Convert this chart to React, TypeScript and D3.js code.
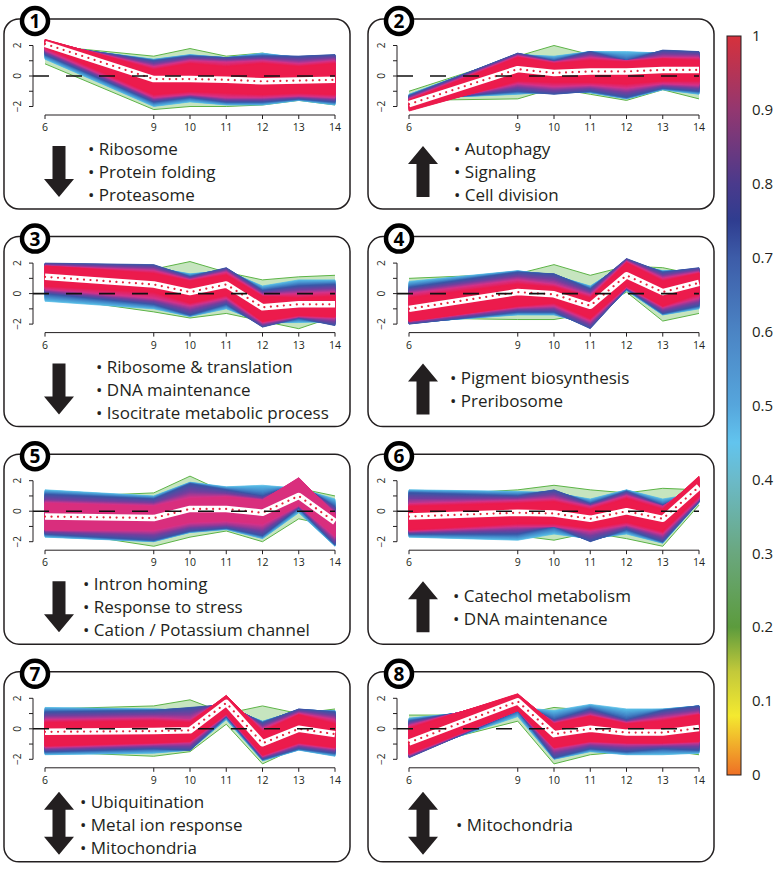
import React from "react";
import * as d3 from "d3";

const TIMES = [6, 9, 10, 11, 12, 13, 14];
const Y_TICKS = [-2, -1, 0, 1, 2];
const Y_LABELS = [-2, 0, 2];
const CB_TICKS = [0, 0.1, 0.2, 0.3, 0.4, 0.5, 0.6, 0.7, 0.8, 0.9, 1];

// membership band layers: [membership, upper[], lower[]]
const CENTROID_1 = [2.1, -0.2, -0.2, -0.25, -0.35, -0.3, -0.25];
const BANDS_1: [number, number[], number[]][] = [
  [0.25, [2.0, 1.3, 1.8, 1.3, 1.5, 1.0, 1.3], [0.8, -2.2, -2.0, -2.0, -1.9, -1.6, -1.9]],
  [0.42, [2.0, 1.1, 1.4, 1.2, 1.5, 1.2, 1.3], [1.1, -2.0, -1.7, -1.9, -1.9, -1.6, -1.9]],
  [0.72, [2.1, 1.0, 1.3, 1.2, 1.3, 1.3, 1.4], [1.4, -1.7, -1.4, -1.7, -1.7, -1.5, -1.7]],
  [0.88, [2.3, 0.6, 1.0, 0.9, 1.0, 0.8, 1.0], [1.7, -1.4, -1.2, -1.4, -1.4, -1.3, -1.4]],
  [0.97, [2.4, 0.4, 0.8, 0.6, 0.8, 0.6, 0.8], [1.9, -1.2, -1.0, -1.1, -1.2, -1.1, -1.2]],
];
const CENTROID_2 = [-1.85, 0.45, 0.2, 0.3, 0.3, 0.4, 0.4];
const BANDS_2: [number, number[], number[]][] = [
  [0.25, [-1.0, 1.3, 2.0, 1.4, 1.5, 1.3, 1.4], [-1.6, -1.5, -0.8, -1.2, -1.6, -0.9, -1.5]],
  [0.42, [-1.2, 1.4, 1.3, 1.6, 1.6, 1.5, 1.5], [-1.5, -1.2, -1.0, -1.1, -1.5, -0.9, -1.2]],
  [0.72, [-1.3, 1.5, 1.0, 1.6, 1.0, 1.7, 1.6], [-1.6, -1.0, -1.2, -1.0, -1.4, -0.8, -1.0]],
  [0.88, [-1.5, 1.3, 0.9, 1.2, 1.0, 1.2, 1.2], [-2.0, -0.5, -0.7, -0.6, -0.8, -0.5, -0.6]],
  [0.97, [-1.6, 1.2, 0.8, 1.0, 0.9, 1.1, 1.0], [-2.3, -0.3, -0.4, -0.4, -0.5, -0.3, -0.3]],
];
const CENTROID_3 = [1.1, 0.6, 0.1, 0.6, -0.9, -0.7, -0.7];
const BANDS_3: [number, number[], number[]][] = [
  [0.25, [1.6, 1.6, 2.1, 1.4, 0.9, 1.1, 1.2], [-0.2, -1.2, -1.6, -1.3, -1.8, -2.3, -1.5]],
  [0.42, [1.8, 1.7, 1.3, 1.5, 0.5, 0.9, 0.9], [-0.5, -1.0, -1.5, -1.0, -1.9, -1.9, -1.8]],
  [0.72, [2.0, 1.9, 1.1, 1.7, 0.2, 0.5, 0.6], [0.0, -0.7, -1.4, -0.7, -2.2, -1.6, -2.1]],
  [0.88, [1.8, 1.5, 0.9, 1.4, -0.1, 0.0, 0.1], [0.3, -0.3, -0.8, -0.3, -1.9, -1.5, -1.6]],
  [0.97, [1.8, 1.3, 0.8, 1.2, -0.2, -0.3, -0.2], [0.5, 0.1, -0.6, -0.1, -1.8, -1.4, -1.5]],
];
const CENTROID_4 = [-1.0, 0.1, -0.05, -0.8, 1.2, 0.1, 0.7];
const BANDS_4: [number, number[], number[]][] = [
  [0.25, [1.0, 1.3, 1.9, 1.2, 1.8, 1.7, 1.2], [-1.6, -1.7, -1.7, -1.3, 0.1, -1.8, -1.3]],
  [0.42, [0.8, 1.5, 1.2, 0.5, 2.0, 1.5, 1.5], [-1.9, -1.4, -1.4, -2.0, 0.2, -1.4, -1.0]],
  [0.72, [0.4, 1.4, 1.3, 0.3, 2.3, 1.4, 1.7], [-2.0, -1.2, -1.2, -2.3, 0.3, -1.3, -0.8]],
  [0.88, [0.0, 0.9, 0.6, -0.1, 2.1, 1.0, 1.4], [-1.8, -0.9, -0.8, -1.8, 0.4, -0.9, -0.3]],
  [0.97, [-0.3, 0.6, 0.4, -0.3, 2.0, 0.8, 1.3], [-1.8, -0.8, -0.6, -1.6, 0.5, -0.8, 0.0]],
];
const CENTROID_5 = [-0.35, -0.45, 0.15, 0.15, -0.1, 1.0, -0.7];
const BANDS_5: [number, number[], number[]][] = [
  [0.25, [0.9, 1.2, 2.3, 1.2, 1.2, 1.5, 1.0], [-1.2, -2.3, -1.7, -1.3, -2.0, -0.5, -1.0]],
  [0.42, [1.4, 1.0, 1.9, 1.6, 1.7, 1.5, 0.8], [-1.7, -2.0, -1.4, -1.2, -1.8, -0.1, -2.3]],
  [0.72, [1.1, 0.8, 1.8, 1.4, 1.0, 1.8, 0.3], [-1.5, -1.9, -1.3, -1.1, -1.6, 0.2, -2.2]],
  [0.82, [0.7, 0.5, 1.2, 1.1, 0.8, 2.0, 0.0], [-1.3, -1.5, -1.0, -0.9, -1.2, 0.3, -1.9]],
  [0.9, [0.5, 0.3, 0.8, 0.9, 0.7, 2.2, -0.2], [-1.2, -1.2, -0.7, -0.6, -0.8, 0.4, -1.6]],
];
const CENTROID_6 = [-0.35, -0.1, -0.15, -0.5, 0.0, -0.5, 1.6];
const BANDS_6: [number, number[], number[]][] = [
  [0.25, [1.0, 1.4, 1.7, 1.4, 1.2, 1.5, 1.4], [-1.3, -1.6, -1.9, -1.4, -1.8, -2.3, 0.4]],
  [0.42, [1.4, 1.3, 1.2, 0.8, 1.4, 0.8, 1.2], [-1.7, -1.9, -1.5, -1.8, -1.5, -2.1, 0.6]],
  [0.72, [1.2, 1.0, 1.4, 0.5, 1.3, 0.4, 1.3], [-1.5, -1.5, -1.0, -2.0, -1.2, -2.0, 0.6]],
  [0.88, [0.5, 0.7, 0.8, 0.3, 1.0, 0.3, 2.0], [-1.3, -1.0, -1.0, -1.3, -0.9, -1.5, 0.8]],
  [0.97, [0.3, 0.5, 0.6, 0.1, 0.8, 0.1, 2.3], [-1.2, -0.8, -0.8, -1.1, -0.7, -1.3, 1.0]],
];
const CENTROID_7 = [-0.2, -0.15, -0.1, 1.7, -0.95, 0.0, -0.35];
const BANDS_7: [number, number[], number[]][] = [
  [0.25, [1.3, 1.5, 1.9, 1.0, 1.5, 1.0, 1.3], [-1.5, -1.8, -1.5, 0.3, -2.3, -1.2, -1.5]],
  [0.42, [1.4, 1.3, 1.2, 1.4, 0.5, 1.2, 1.2], [-1.7, -1.6, -1.4, 0.6, -2.1, -1.4, -1.8]],
  [0.72, [1.1, 1.2, 1.4, 1.6, 0.4, 1.3, 1.1], [-1.5, -1.3, -1.4, 0.8, -2.0, -1.3, -1.6]],
  [0.88, [0.6, 0.7, 0.6, 2.0, 0.0, 1.0, 0.6], [-1.2, -1.0, -0.9, 0.9, -1.8, -1.0, -1.3]],
  [0.97, [0.4, 0.5, 0.4, 2.2, -0.2, 0.9, 0.3], [-1.1, -0.9, -0.8, 1.0, -1.7, -0.9, -1.2]],
];
const CENTROID_8 = [-0.9, 1.8, -0.35, 0.0, -0.25, -0.25, 0.05];
const BANDS_8: [number, number[], number[]][] = [
  [0.25, [0.9, 0.9, 1.4, 1.2, 1.2, 1.2, 1.2], [-1.3, 0.5, -2.3, -1.7, -1.5, -1.4, -1.7]],
  [0.42, [0.7, 1.4, 1.2, 1.6, 1.3, 1.3, 1.5], [-1.6, 0.8, -2.0, -1.5, -1.7, -1.7, -1.6]],
  [0.72, [0.5, 1.7, 0.6, 1.3, 0.6, 1.2, 1.5], [-1.9, 1.2, -1.9, -1.3, -1.5, -1.3, -1.4]],
  [0.88, [0.2, 2.1, 0.4, 0.9, 0.4, 0.7, 1.0], [-1.7, 1.2, -1.3, -0.9, -1.0, -1.0, -0.9]],
  [0.97, [0.0, 2.3, 0.3, 0.8, 0.3, 0.5, 0.9], [-1.6, 1.2, -1.2, -0.8, -0.9, -0.9, -0.8]],
];

const TERMS_1 = ["Ribosome", "Protein folding", "Proteasome"];
const TERMS_2 = ["Autophagy", "Signaling", "Cell division"];
const TERMS_3 = ["Ribosome & translation", "DNA maintenance", "Isocitrate metabolic process"];
const TERMS_4 = ["Pigment biosynthesis", "Preribosome"];
const TERMS_5 = ["Intron homing", "Response to stress", "Cation / Potassium channel"];
const TERMS_6 = ["Catechol metabolism", "DNA maintenance"];
const TERMS_7 = ["Ubiquitination", "Metal ion response", "Mitochondria"];
const TERMS_8 = ["Mitochondria"];

const DIRECTIONS = ["down", "up", "down", "up", "down", "up", "both", "both"];

const CENTROIDS = [CENTROID_1, CENTROID_2, CENTROID_3, CENTROID_4, CENTROID_5, CENTROID_6, CENTROID_7, CENTROID_8];
const BANDS = [BANDS_1, BANDS_2, BANDS_3, BANDS_4, BANDS_5, BANDS_6, BANDS_7, BANDS_8];
const TERMS = [TERMS_1, TERMS_2, TERMS_3, TERMS_4, TERMS_5, TERMS_6, TERMS_7, TERMS_8];

// layout
const W = 777;
const H = 873;
const BOX_W = 346;
const BOX_H = 190;
const COL_X = [4, 368];
const ROW_Y0 = 19;
const ROW_STEP = 217.6;
const TEXT_X = [84, 86, 92, 82, 79, 85, 76, 88];
const FONT = "'Open Sans', 'Noto Sans', sans-serif";
const INK = "#231f20";
const SUBSTEPS = 8;

const lineColor = d3
  .scaleLinear<string>()
  .domain([0.25, 0.42, 0.6, 0.72, 0.8, 0.88, 0.97])
  .range(["#5db447", "#58bde6", "#4183c6", "#3a55a6", "#743f9e", "#d3338b", "#ec1b4c"]);

const CB_STOPS: [number, string][] = [
  [0, "#ee6f25"],
  [0.08, "#f4e930"],
  [0.14, "#c3c93a"],
  [0.2, "#5c9b3d"],
  [0.3, "#6aa77e"],
  [0.4, "#6bbac9"],
  [0.45, "#62c4ee"],
  [0.5, "#56a6dc"],
  [0.6, "#4b84c4"],
  [0.7, "#3d5ca8"],
  [0.75, "#2f3d90"],
  [0.8, "#4a3a8c"],
  [0.9, "#933770"],
  [1, "#d6313c"],
];

function arrowPath(cx: number, y0: number, y1: number, dir: string) {
  const sw = 6.5, hw = 15, hl = 18;
  let pts: [number, number][];
  if (dir === "up") {
    pts = [[cx, y0], [cx + hw, y0 + hl], [cx + sw, y0 + hl], [cx + sw, y1], [cx - sw, y1], [cx - sw, y0 + hl], [cx - hw, y0 + hl]];
  } else if (dir === "down") {
    pts = [[cx, y1], [cx + hw, y1 - hl], [cx + sw, y1 - hl], [cx + sw, y0], [cx - sw, y0], [cx - sw, y1 - hl], [cx - hw, y1 - hl]];
  } else {
    pts = [
      [cx, y0], [cx + hw, y0 + hl], [cx + sw, y0 + hl], [cx + sw, y1 - hl], [cx + hw, y1 - hl],
      [cx, y1], [cx - hw, y1 - hl], [cx - sw, y1 - hl], [cx - sw, y0 + hl], [cx - hw, y0 + hl],
    ];
  }
  return "M" + pts.map((p) => p.join(",")).join("L") + "Z";
}

function Panel({ idx }: { idx: number }) {
  const bx = COL_X[idx % 2];
  const by = ROW_Y0 + Math.floor(idx / 2) * ROW_STEP;
  const x = d3.scaleLinear().domain([6, 14]).range([bx + 41, bx + 331]);
  const y = d3.scaleLinear().domain([-2, 2]).range([by + 87.5, by + 26.5]);
  const area = d3
    .area<number[]>()
    .x((_, i) => x(TIMES[i]))
    .y0((d) => y(d[1]))
    .y1((d) => y(d[0]));
  const line = d3
    .line<number>()
    .x((_, i) => x(TIMES[i]))
    .y((d) => y(d));
  const bands = BANDS[idx];
  const centroid = CENTROIDS[idx];
  const terms = TERMS[idx];
  const dir = DIRECTIONS[idx];
  const axisX = bx + 29;
  const axisY = by + 96;
  const cy = by + 159;
  const arrowY0 = dir === "both" ? by + 120 : by + 127;
  const arrowY1 = dir === "both" ? by + 183 : by + 178;

  // rendering: blend between consecutive membership layers for a smooth colour ramp
  const shapes: { d: string; c: string }[] = [];
  const [m1, hi1, lo1] = bands[1];
  shapes.push({ d: area(hi1.map((h, i) => [h, lo1[i]])) || "", c: lineColor(m1) });
  for (let k = 1; k < bands.length - 1; k++) {
    const [ma, ha, la] = bands[k];
    const [mb, hb, lb] = bands[k + 1];
    for (let s = 1; s <= SUBSTEPS; s++) {
      const f = s / SUBSTEPS;
      const pts = ha.map((h, i) => [h + (hb[i] - h) * f, la[i] + (lb[i] - la[i]) * f]);
      shapes.push({ d: area(pts) || "", c: lineColor(ma + (mb - ma) * f) });
    }
  }
  const [m0, hi0, lo0] = bands[0];
  const green = lineColor(m0);

  return (
    <g>
      <rect x={bx} y={by} width={BOX_W} height={BOX_H} rx={15} ry={15} fill="white" stroke={INK} strokeWidth={1.5} />
      <path d={area(hi0.map((h, i) => [h, lo0[i]])) || ""} fill={green} fillOpacity={0.35} stroke="none" />
      <path d={line(hi0) || ""} fill="none" stroke={green} strokeWidth={1} />
      <path d={line(lo0) || ""} fill="none" stroke={green} strokeWidth={1} />
      {shapes.map((s, k) => (
        <path key={k} d={s.d} fill={s.c} stroke={s.c} strokeWidth={0.8} />
      ))}
      <path d={line(centroid) || ""} fill="none" stroke="white" strokeWidth={6.5} strokeLinejoin="round" />
      <path d={line(centroid) || ""} fill="none" stroke="#e4253f" strokeWidth={2.2} strokeDasharray="0.01 6.5" strokeLinecap="round" />
      <line x1={axisX} x2={x(14)} y1={y(0)} y2={y(0)} stroke="#111" strokeWidth={1.6} strokeDasharray="16 17" />
      {/* y axis */}
      <line x1={axisX} x2={axisX} y1={y(-2)} y2={y(2)} stroke={INK} strokeWidth={1} />
      {Y_TICKS.map((t) => (
        <line key={t} x1={axisX - 4} x2={axisX} y1={y(t)} y2={y(t)} stroke={INK} strokeWidth={1} />
      ))}
      {Y_LABELS.map((t) => (
        <text
          key={t}
          transform={`translate(${bx + 17},${y(t)}) rotate(-90)`}
          textAnchor="middle"
          fontFamily={FONT}
          fontSize={10}
          fill={INK}
        >
          {t < 0 ? "\u2212" + Math.abs(t) : String(t)}
        </text>
      ))}
      {/* x axis */}
      <line x1={x(6)} x2={x(14)} y1={axisY} y2={axisY} stroke={INK} strokeWidth={1} />
      {TIMES.map((t) => (
        <g key={t}>
          <line x1={x(t)} x2={x(t)} y1={axisY} y2={axisY + 4} stroke={INK} strokeWidth={1} />
          <text x={x(t)} y={by + 112} textAnchor="middle" fontFamily={FONT} fontSize={10.5} fill={INK}>
            {t}
          </text>
        </g>
      ))}
      {/* arrow */}
      <path d={arrowPath(bx + 55, arrowY0, arrowY1, dir)} fill={INK} />
      {/* terms */}
      {terms.map((t, i) => (
        <text
          key={t}
          x={bx + TEXT_X[idx]}
          y={cy + (i - (terms.length - 1) / 2) * 23}
          fontFamily={FONT}
          fontSize={17}
          fill={INK}
        >
          {"\u2022 " + t}
        </text>
      ))}
      {/* badge */}
      <circle cx={bx + 31} cy={by + 2} r={13} fill="white" stroke="#000" strokeWidth={4.5} />
      <text x={bx + 31} y={by + 9} textAnchor="middle" fontFamily={FONT} fontWeight={700} fontSize={19} fill="#000">
        {idx + 1}
      </text>
    </g>
  );
}

export default function App() {
  const cb = d3.scaleLinear().domain([0, 1]).range([775, 36]);
  return (
    <svg width={W} height={H} style={{ position: "absolute", left: 0, top: 0, background: "white" }}>
      <defs>
        <linearGradient id="cbgrad" x1="0" y1="1" x2="0" y2="0">
          {CB_STOPS.map(([o, c]) => (
            <stop key={o} offset={o} stopColor={c} />
          ))}
        </linearGradient>
      </defs>
      <rect x={0} y={0} width={W} height={H} fill="white" />
      {d3.range(8).map((i) => (
        <Panel key={i} idx={i} />
      ))}
      <rect x={727} y={cb(1)} width={14} height={cb(0) - cb(1)} fill="url(#cbgrad)" stroke={INK} strokeWidth={1} />
      {CB_TICKS.map((v) => (
        <text key={v} x={752} y={cb(v)} dy="0.35em" fontFamily={FONT} fontSize={15} fill={INK}>
          {v === 0 ? "0" : v === 1 ? "1" : v.toFixed(1)}
        </text>
      ))}
    </svg>
  );
}
